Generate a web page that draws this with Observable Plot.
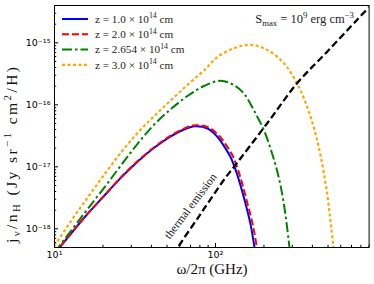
<!DOCTYPE html>
<html><head><meta charset="utf-8">
<script src="https://cdn.jsdelivr.net/npm/d3@7"></script>
<script src="https://cdn.jsdelivr.net/npm/@observablehq/plot@0.6"></script>
<style>
body{margin:0;background:#fff}
#chart{width:374px;height:284px}
</style>
</head><body><div id="chart"></div>
<script>
// ---- data ----
const nuZ1 = [10, 15.3, 20.5, 25.9, 32.9, 41.8, 53.1, 67.3, 74.1, 89.5, 103, 114, 124, 136, 150, 165, 175, 180];
const jZ1  = [3.94e-19, 1.51e-18, 3.48e-18, 6.7e-18, 1.22e-17, 2.05e-17, 3.14e-17, 4.24e-17, 4.51e-17, 4.14e-17, 3.03e-17, 2.08e-17, 1.44e-17, 7.7e-18, 3.22e-18, 1.19e-18, 4.9e-19, 3.2e-19];

const nuZ2 = [10, 15.3, 20.5, 25.9, 32.9, 41.8, 53.1, 67.3, 75, 90, 105, 117, 128, 140, 154, 170, 181, 186];
const jZ2  = [3.94e-19, 1.52e-18, 3.5e-18, 6.8e-18, 1.24e-17, 2.09e-17, 3.22e-17, 4.4e-17, 4.7e-17, 4.35e-17, 3.2e-17, 2.2e-17, 1.5e-17, 8.0e-18, 3.3e-18, 1.2e-18, 4.9e-19, 3.2e-19];

const nuZ3 = [10, 13.3, 16.1, 20.5, 25.9, 32.9, 41.8, 53.1, 67.3, 85.5, 108, 130, 150, 173, 200, 225, 247, 266, 285, 292];
const jZ3  = [4.16e-19, 1.1e-18, 2.1e-18, 4.71e-18, 1.06e-17, 2.37e-17, 4.86e-17, 8.63e-17, 1.4e-16, 2.03e-16, 2.45e-16, 2.08e-16, 1.53e-16, 8.2e-17, 3.88e-17, 1.63e-17, 6.8e-18, 2.51e-18, 6.4e-19, 3.5e-19];

const nuZ4 = [10, 12.7, 16.1, 20.5, 25.9, 32.9, 41.8, 53.1, 67.3, 85.5, 103, 130, 165, 209, 266, 321, 371, 418, 460, 494, 518, 538, 548];
const jZ4  = [5.3e-19, 1.35e-18, 3.22e-18, 7.66e-18, 1.71e-17, 3.54e-17, 6.67e-17, 1.2e-16, 2.12e-16, 3.65e-16, 5.93e-16, 8.15e-16, 9.28e-16, 7.7e-16, 4.69e-16, 2.22e-16, 9.3e-17, 3.44e-17, 1.12e-17, 3.66e-18, 1.35e-18, 5.6e-19, 3.3e-19];

const nuThermal = [55, 58.3, 80.7, 114, 130, 209, 321, 494, 759, 920];
const jThermal  = [3.8e-19, 4.98e-19, 1.73e-18, 6.4e-18, 9.9e-18, 4.99e-17, 2.22e-16, 7.2e-16, 2.36e-15, 4.0e-15];

const zMantissa = ["1.0", "2.0", "2.654", "3.0"];
const xMajor = [10, 100];
const xMinor = [20, 30, 40, 50, 60, 70, 80, 90, 200, 300, 400, 500, 600, 700, 800, 900];
const yMajor = [1e-18, 1e-17, 1e-16, 1e-15];
const yMinor = [5e-19, 6e-19, 7e-19, 8e-19, 9e-19,
  2e-18, 3e-18, 4e-18, 5e-18, 6e-18, 7e-18, 8e-18, 9e-18,
  2e-17, 3e-17, 4e-17, 5e-17, 6e-17, 7e-17, 8e-17, 9e-17,
  2e-16, 3e-16, 4e-16, 5e-16, 6e-16, 7e-16, 8e-16, 9e-16,
  2e-15, 3e-15, 4e-15];

// ---- styles ----
const styles = [
  {stroke: "#0000ff", width: 2, dash: null},
  {stroke: "#ff0000", width: 2, dash: "7,3"},
  {stroke: "#008000", width: 2, dash: "10,3,2.5,3"},
  {stroke: "#ffa500", width: 2.2, dash: "3,2.5"}
];
const thermalStyle = {stroke: "#000", width: 2.3, dash: "7,3.5"};

const toRows = (nu, j) => nu.map((v, i) => ({nu: v, j: j[i]}));
const curves = [toRows(nuZ1, jZ1), toRows(nuZ2, jZ2), toRows(nuZ3, jZ3), toRows(nuZ4, jZ4)];
const thermal = toRows(nuThermal, jThermal);

const supMap = {"-": "\u207B", "0": "\u2070", "1": "\u00B9", "2": "\u00B2", "3": "\u00B3", "4": "\u2074", "5": "\u2075", "6": "\u2076", "7": "\u2077", "8": "\u2078", "9": "\u2079"};
const fmtPow = v => "10" + String(Math.round(Math.log10(v))).split("").map(c => supMap[c]).join("");

const serif = "'Liberation Serif', 'DejaVu Serif', serif";

const marks = [];
curves.forEach((rows, i) => {
  const s = styles[i];
  marks.push(Plot.line(rows, {x: "nu", y: "j", stroke: s.stroke, strokeWidth: s.width,
    strokeDasharray: s.dash, strokeLinecap: "butt", curve: "catmull-rom", clip: true}));
});
marks.push(Plot.line(thermal, {x: "nu", y: "j", stroke: thermalStyle.stroke, strokeWidth: thermalStyle.width,
  strokeDasharray: thermalStyle.dash, strokeLinecap: "butt", curve: "catmull-rom", clip: true}));
marks.push(Plot.text([thermal[2]], {x: "nu", y: "j", text: () => "thermal emission", rotate: -53,
  dx: -10, dy: -8, fontFamily: serif, fontSize: 11.5, fill: "#111"}));

marks.push(
  Plot.axisX({ticks: xMajor, tickSize: -4, fill: "none", stroke: "#000"}),
  Plot.axisX({ticks: xMinor, tickSize: -2.2, fill: "none", stroke: "#000"}),
  Plot.axisX({ticks: xMajor, tickSize: 0, tickPadding: 4, tickFormat: fmtPow, label: null,
    fontSize: 9.5, fontFamily: "DejaVu Sans", fill: "#000"}),
  Plot.axisY({ticks: yMajor, tickSize: -4, fill: "none", stroke: "#000"}),
  Plot.axisY({ticks: yMinor, tickSize: -2.2, fill: "none", stroke: "#000"}),
  Plot.axisY({ticks: yMajor, tickSize: 0, tickPadding: 4, tickFormat: fmtPow, label: null,
    fontSize: 9.5, fontFamily: "DejaVu Sans", fill: "#000"}),
  Plot.frame({stroke: "#000", strokeWidth: 1})
);

const svgEl = Plot.plot({
  width: 374, height: 284,
  marginLeft: 54, marginRight: 5.4, marginTop: 5, marginBottom: 37,
  style: {background: "#fff", fontFamily: "DejaVu Sans", fontSize: "9px", color: "#000"},
  x: {type: "log", domain: [10, 900]},
  y: {type: "log", domain: [5e-19, 4e-15]},
  marks
});
document.getElementById("chart").appendChild(svgEl);

const svg = d3.select(svgEl);

// helper: rich text with sub/superscripts
function rich(t, pieces, size) {
  let back = 0;
  pieces.forEach(p => {
    const ts = t.append("tspan").text(p.t);
    let dy = back; back = 0;
    if (p.sup) { dy += -size * 0.38; back = size * 0.38; ts.attr("font-size", size * 0.7); }
    else if (p.sub) { dy += size * 0.22; back = -size * 0.22; ts.attr("font-size", size * 0.7); }
    if (dy) ts.attr("dy", dy);
  });
}

// legend (inside plot, top-left)
const leg = svg.append("g").attr("class", "legend");
const rowY = [19, 34.3, 49.6, 64.9];
zMantissa.forEach((m, i) => {
  const s = styles[i];
  const y = rowY[i];
  leg.append("line").attr("x1", 62).attr("x2", 88).attr("y1", y).attr("y2", y)
    .attr("stroke", s.stroke).attr("stroke-width", s.width)
    .attr("stroke-dasharray", s.dash);
  const t = leg.append("text").attr("x", 95).attr("y", y + 3.6).attr("text-anchor", "start")
    .attr("font-family", serif).attr("font-size", 11.2).attr("fill", "#222");
  rich(t, [{t: "z = " + m + " \u00D7 10"}, {t: "14", sup: true}, {t: " cm"}], 11.2);
});

// S_max annotation
const ann = svg.append("text").attr("x", 354).attr("y", 23).attr("text-anchor", "end")
  .attr("font-family", serif).attr("font-size", 12.5).attr("fill", "#222");
rich(ann, [{t: "S"}, {t: "max", sub: true}, {t: " = 10"}, {t: "9", sup: true}, {t: " erg cm"}, {t: "\u22123", sup: true}], 12.5);

// axis labels
const xl = svg.append("text").attr("x", 212).attr("y", 274).attr("text-anchor", "middle")
  .attr("font-family", serif).attr("font-size", 15).attr("fill", "#111");
rich(xl, [{t: "\u03C9/2\u03C0 (GHz)"}], 15);

const yl = svg.append("text").attr("transform", "translate(17,155) rotate(-90)").attr("text-anchor", "middle")
  .attr("font-family", serif).attr("font-size", 15.5).attr("fill", "#111")
  .attr("textLength", 176).attr("lengthAdjust", "spacing");
rich(yl, [{t: "j"}, {t: "\u03BD", sub: true}, {t: "/n"}, {t: "H", sub: true}, {t: " (Jy sr"}, {t: "\u22121", sup: true}, {t: " cm"}, {t: "2", sup: true}, {t: "/H)"}], 15.5);
</script>
</body></html>
